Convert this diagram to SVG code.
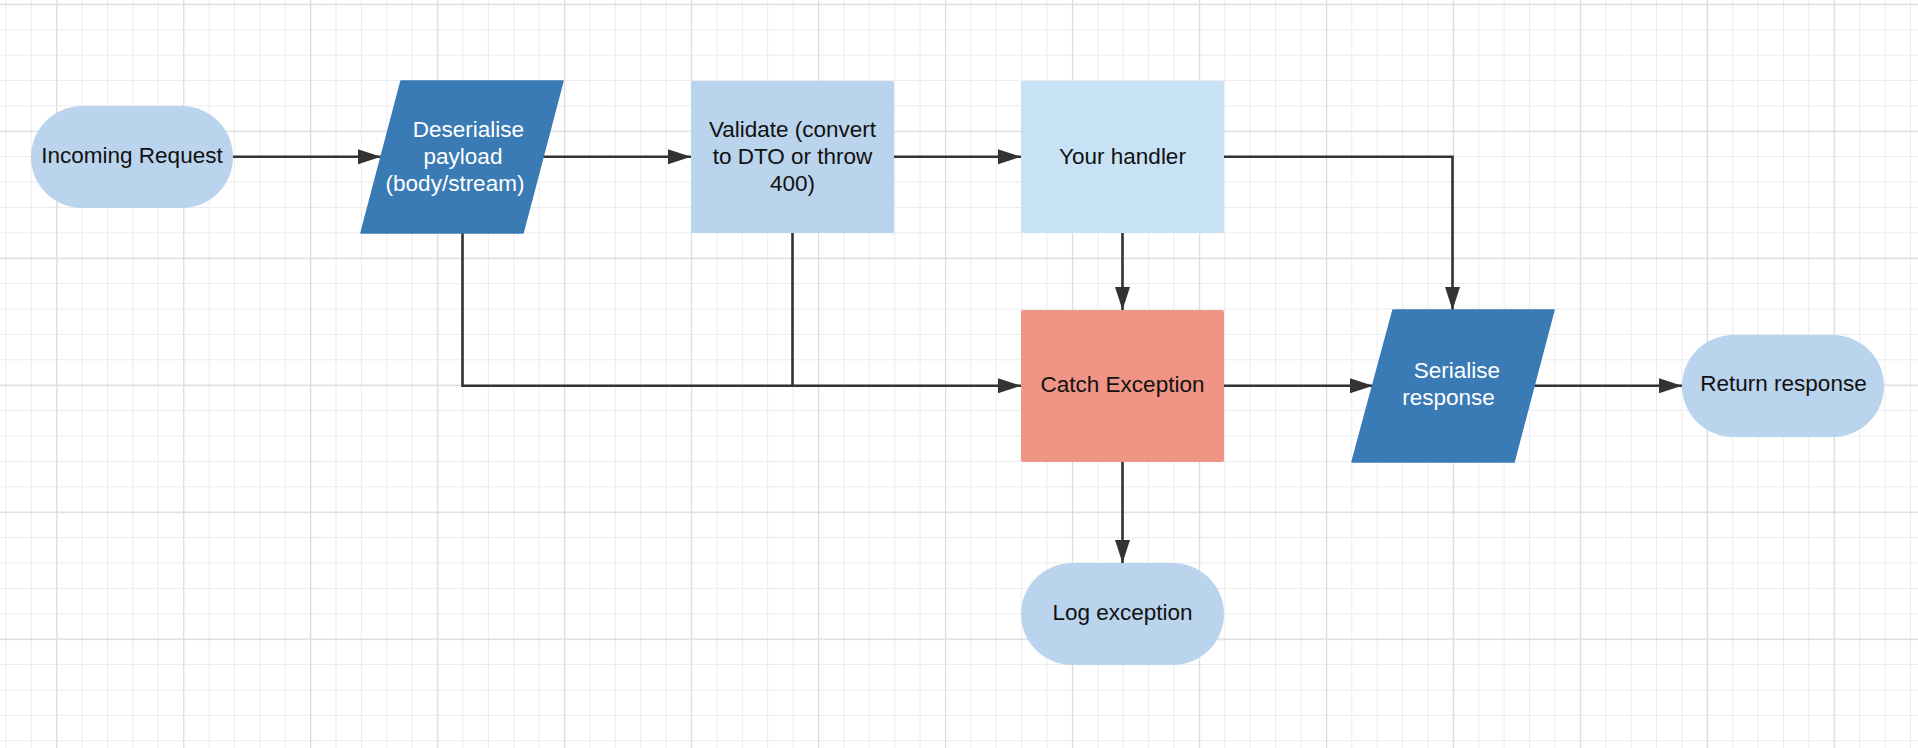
<svg xmlns="http://www.w3.org/2000/svg" width="1918" height="748" viewBox="0 0 1918 748">
<style>
.t{font-family:"Liberation Sans",Arial,sans-serif;font-size:22.5px;fill:#111;text-anchor:middle}
.w{fill:#fff}
.light{fill:#b9d4ec}
.pale{fill:#c7e2f5}
.dark{fill:#3a7ab5}
.red{fill:#f09586}
.conn{fill:none;stroke:#333;stroke-width:2.6}
</style>
<defs>
<pattern id="minor" patternUnits="userSpaceOnUse" x="5.4" y="3.8" width="25.394" height="25.394">
<rect x="0" y="0" width="1" height="25.394" fill="#ebebeb"/>
<rect x="0" y="0" width="25.394" height="1" fill="#ebebeb"/>
</pattern>
<pattern id="major" patternUnits="userSpaceOnUse" x="56.2" y="3.8" width="126.97" height="126.97">
<rect x="0" y="0" width="1.2" height="126.97" fill="#dcdcdc"/>
<rect x="0" y="0" width="126.97" height="1.2" fill="#dcdcdc"/>
</pattern>
<marker id="arr" markerUnits="userSpaceOnUse" markerWidth="24" markerHeight="16" refX="23" refY="7.5" orient="auto">
<path d="M0,0 L23,7.5 L0,15 Z" fill="#333"/>
</marker>
</defs>
<rect width="1918" height="748" fill="#fff"/>
<rect width="1918" height="748" fill="url(#minor)"/>
<rect width="1918" height="748" fill="url(#major)"/>

<g id="connectors">
<path class="conn" d="M233,156.7 H381" marker-end="url(#arr)"/>
<path class="conn" d="M543,156.7 H691" marker-end="url(#arr)"/>
<path class="conn" d="M894,156.7 H1021" marker-end="url(#arr)"/>
<path class="conn" d="M1224,156.7 H1452.5 V310" marker-end="url(#arr)"/>
<path class="conn" d="M1122.5,233 V310" marker-end="url(#arr)"/>
<path class="conn" d="M462.5,233 V385.7 H1021" marker-end="url(#arr)"/>
<path class="conn" d="M792.5,233 V385.7"/>
<path class="conn" d="M1224,385.7 H1373" marker-end="url(#arr)"/>
<path class="conn" d="M1534,385.7 H1682" marker-end="url(#arr)"/>
<path class="conn" d="M1122.5,462 V563" marker-end="url(#arr)"/>
</g>

<g id="incoming-request">
<rect class="light" x="31" y="106" width="202" height="102" rx="51"/>
<text class="t" x="132" y="162.7">Incoming Request</text>
</g>

<g id="deserialise">
<path class="dark" d="M401,81 H563 L523,233 H361 Z" stroke="#3a7ab5" stroke-width="1.5" stroke-linejoin="round"/>
<text class="t w" x="468.5" y="137.3">Deserialise</text>
<text class="t w" x="463" y="164.3">payload</text>
<text class="t w" x="455" y="191.3">(body/stream)</text>
</g>

<g id="validate">
<rect class="light" x="691" y="81" width="203" height="152" rx="2"/>
<text class="t" x="792.5" y="137.3">Validate (convert</text>
<text class="t" x="792.5" y="164.3">to DTO or throw</text>
<text class="t" x="792.5" y="191.3">400)</text>
</g>

<g id="your-handler">
<rect class="pale" x="1021" y="81" width="203" height="152" rx="2"/>
<text class="t" x="1122.5" y="164">Your handler</text>
</g>

<g id="catch-exception">
<rect class="red" x="1021" y="310" width="203" height="152" rx="2"/>
<text class="t" x="1122.5" y="391.5">Catch Exception</text>
</g>

<g id="serialise-response">
<path class="dark" d="M1393,310 H1554 L1514,462 H1352 Z" stroke="#3a7ab5" stroke-width="1.5" stroke-linejoin="round"/>
<text class="t w" x="1457" y="378.3">Serialise</text>
<text class="t w" x="1448.5" y="405.3">response</text>
</g>

<g id="return-response">
<rect class="light" x="1682" y="335" width="202" height="102" rx="51"/>
<text class="t" x="1783.5" y="391">Return response</text>
</g>

<g id="log-exception">
<rect class="light" x="1021" y="563" width="203" height="102" rx="51"/>
<text class="t" x="1122.5" y="619.5">Log exception</text>
</g>
</svg>
